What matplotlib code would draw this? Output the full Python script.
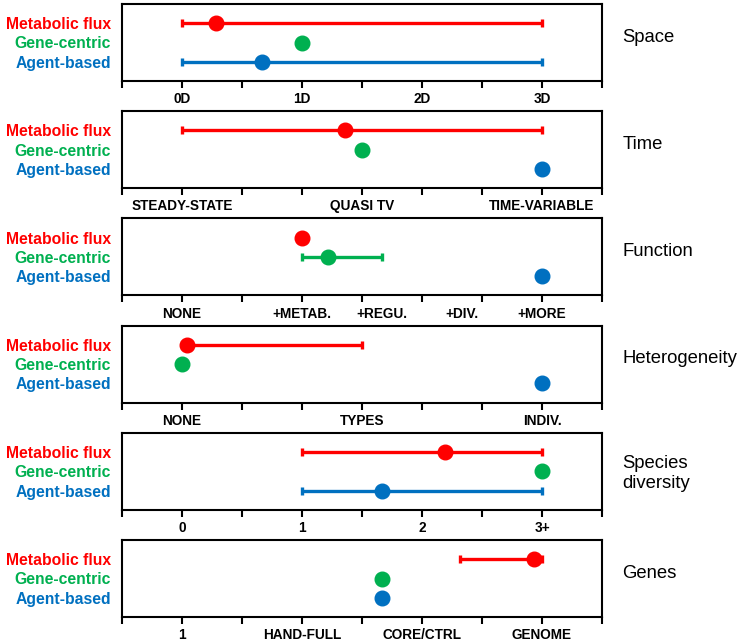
import matplotlib
matplotlib.use("Agg")
import matplotlib.pyplot as plt
import numpy as np

plt.rcParams['font.family'] = ['Liberation Sans', 'DejaVu Sans']

models = ["Metabolic flux", "Gene-centric", "Agent-based"]
model_colors = ["#FF0000", "#00B050", "#0070C0"]

panels = ["Space", "Time", "Function", "Heterogeneity", "Species\ndiversity", "Genes"]

tick_pos = [
    [0, 1, 2, 3],
    [0, 1.5, 3],
    [0, 1, 1.667, 2.333, 3],
    [0, 1.5, 3],
    [0, 1, 2, 3],
    [0, 1, 2, 3],
]
tick_labels = [
    ["0D", "1D", "2D", "3D"],
    ["STEADY-STATE", "QUASI TV", "TIME-VARIABLE"],
    ["NONE", "+METAB.", "+REGU.", "+DIV.", "+MORE"],
    ["NONE", "TYPES", "INDIV."],
    ["0", "1", "2", "3+"],
    ["1", "HAND-FULL", "CORE/CTRL", "GENOME"],
]

# point estimates per panel: [metabolic flux, gene-centric, agent-based]
points = [
    [0.28, 1.0, 0.67],
    [1.36, 1.5, 3.0],
    [1.0, 1.22, 3.0],
    [0.04, 0.0, 3.0],
    [2.19, 3.0, 1.67],
    [2.93, 1.67, 1.67],
]
# ranges (low, high) or None
ranges = [
    [(0, 3), None, (0, 3)],
    [(0, 3), None, None],
    [None, (1, 1.667), None],
    [(0, 1.5), None, None],
    [(1, 3), None, (1, 3)],
    [(2.32, 3), None, None],
]

W, H = 743, 641
fig = plt.figure(figsize=(W / 100, H / 100), dpi=100)

left_px, right_px = 122, 602
panel_h = 77
for i in range(6):
    top_px = 4 + 107.2 * i
    ax = fig.add_axes([left_px / W, 1 - (top_px + panel_h) / H,
                       (right_px - left_px) / W, panel_h / H])
    for j in range(3):
        c = model_colors[j]
        r = ranges[i][j]
        if r is not None:
            ax.plot([r[0], r[1]], [j, j], color=c, lw=2.4, solid_capstyle='butt', zorder=2)
            ax.plot([r[0], r[1]], [j, j], ls='none', marker='|', ms=6, mew=2.4, color=c, zorder=2)
        ax.plot([points[i][j]], [j], 'o', color=c, ms=10.5, zorder=3)
    ax.set_xlim(-0.5, 3.5)
    ax.set_ylim(3, -1)
    ax.set_yticks([0, 1, 2])
    ax.set_yticklabels(models, fontsize=11.3, fontweight='bold')
    for lab, c in zip(ax.get_yticklabels(), model_colors):
        lab.set_color(c)
    ax.tick_params(axis='y', length=0, pad=8)
    ax.xaxis.remove_overlapping_locs = False
    ax.set_xticks(np.arange(-0.5, 3.51, 0.5))
    ax.set_xticklabels([])
    ax.tick_params(axis='x', which='major', direction='out', length=5, width=1.5)
    ax.set_xticks(tick_pos[i], minor=True)
    ax.set_xticklabels(tick_labels[i], minor=True, fontsize=9.8, fontweight='bold')
    ax.tick_params(axis='x', which='minor', length=0, pad=8)
    for s in ax.spines.values():
        s.set_linewidth(1.5)
    ty = 0.47 if "\n" in panels[i] else 0.57
    ax.text(1.042, ty, panels[i], transform=ax.transAxes, fontsize=13.3,
            ha='left', va='center', linespacing=1.25)

fig.savefig("out.png", dpi=100)
